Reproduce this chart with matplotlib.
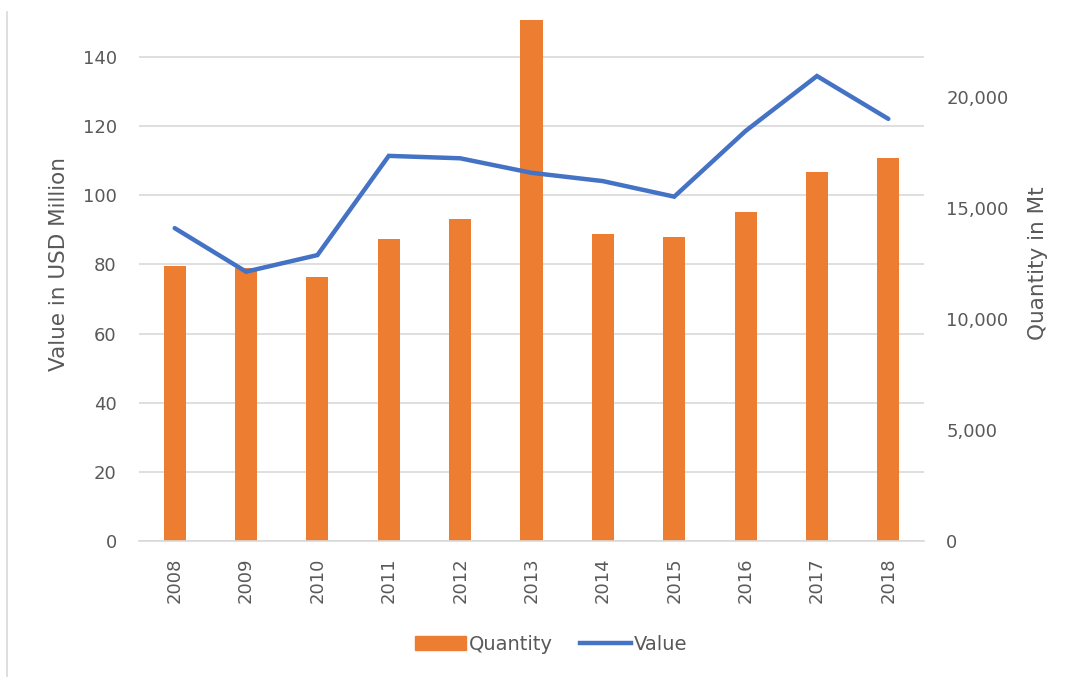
import matplotlib.pyplot as plt
import matplotlib.lines as mlines
import matplotlib.patches as mpatches
import numpy as np

plt.rcParams['font.family'] = ['DejaVu Sans']

years = ['2008', '2009', '2010', '2011', '2012', '2013', '2014', '2015', '2016', '2017', '2018']
quantity = [12390, 12300, 11890, 13600, 14490, 23500, 13820, 13690, 14810, 16610, 17240]
value = [90.5, 77.9, 82.7, 111.4, 110.7, 106.5, 104.1, 99.6, 118.6, 134.5, 122.1]

orange = '#ED7D31'
blue = '#4472C4'
grey_txt = '#595959'
grid_c = '#D9D9D9'

fig = plt.figure(figsize=(10.75, 6.77), dpi=100)
# plot area: x 139..924, y 20..541 (pixels)
ax = fig.add_axes([139 / 1075, 1 - 541 / 677, 785 / 1075, 521 / 677])
ax2 = ax.twinx()   # quantity bars, right axis
ax3 = ax.twinx()   # value line, drawn on top, shares left scale
x = np.arange(len(years))

vmax = 150.7
ax.set_ylim(0, vmax)
ax3.set_ylim(0, vmax)
ax.set_yticks(range(0, 141, 20))
ax.set_xlim(-0.5, len(years) - 0.5)
ax.grid(axis='y', color=grid_c, linewidth=1.2)

ax2.bar(x, quantity, width=0.31, color=orange)
ax2.set_ylim(0, 23468)
ax2.set_yticks([0, 5000, 10000, 15000, 20000])
ax2.set_yticklabels(['0', '5,000', '10,000', '15,000', '20,000'])

ax3.plot(x, value, color=blue, linewidth=3.2, solid_capstyle='round',
         solid_joinstyle='miter')
ax3.axis('off')

ax.set_xticks(x)
ax.set_xticklabels(years, rotation=90)

for a in (ax, ax2):
    for s in a.spines.values():
        s.set_visible(False)
    a.tick_params(length=0, colors=grey_txt, labelsize=13)
ax2.spines['bottom'].set_visible(True)
ax2.spines['bottom'].set_color(grid_c)
ax2.spines['bottom'].set_linewidth(1.2)
ax.tick_params(axis='y', pad=16)
ax.tick_params(axis='x', pad=12)
ax2.tick_params(axis='y', pad=16)

ax.set_ylabel('Value in USD Million', color=grey_txt, fontsize=15.5, labelpad=10)
ax2.set_ylabel('Quantity in Mt', color=grey_txt, fontsize=15.5, labelpad=14)
ax.yaxis.label.set_y(0.532)
ax2.yaxis.label.set_y(0.534)

# legend at bottom centre
h1 = mpatches.Patch(color=orange, label='Quantity')
h2 = mlines.Line2D([], [], color=blue, linewidth=3.2, label='Value')
fig.legend(handles=[h1, h2], loc='center', bbox_to_anchor=(551 / 1075, 1 - 644 / 677),
           ncol=2, frameon=False, fontsize=14, handlelength=2.65, handletextpad=0.12,
           columnspacing=1.4, labelcolor=grey_txt)

# faint frame edge on the left of the chart
fig.add_artist(mlines.Line2D([7 / 1075, 7 / 1075], [0, 1 - 12 / 677],
                             color='#D9D9D9', linewidth=1.2))

fig.savefig('out.png', dpi=100)
